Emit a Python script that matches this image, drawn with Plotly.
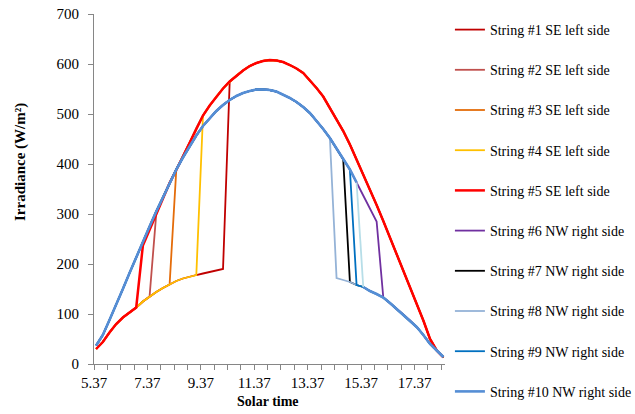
import plotly.graph_objects as go

# ---- data ----
solar_time = [5.45, 5.70, 5.95, 6.20, 6.45, 6.70, 6.95, 7.20, 7.45, 7.70,
              7.95, 8.20, 8.45, 8.70, 8.95, 9.20, 9.45, 9.70, 9.95, 10.20,
              10.45, 10.70, 10.95, 11.20, 11.45, 11.70, 11.95, 12.20, 12.45, 12.70,
              12.95, 13.20, 13.45, 13.70, 13.95, 14.20, 14.45, 14.70, 14.95, 15.20,
              15.45, 15.70, 15.95, 16.20, 16.45, 16.70, 16.95, 17.20, 17.45, 17.70,
              17.95, 18.20, 18.45]

# SE side, shaded part (index 0..19)
se_shaded = [30, 44, 63, 80, 93, 103, 113, 125, 135, 144,
             152, 159, 166, 171, 175, 178, 181, 184, 187, 190]
# SE side, unshaded part (index 7..52)
se_sunny = [237, 268, 300, 333, 362, 388, 415, 443, 472, 497,
            517, 535, 551, 565, 577, 587, 596, 602, 606, 608,
            607, 604, 598, 591, 582, 568, 552, 535, 512, 490,
            466, 439, 409, 380, 350, 318, 286, 253, 220, 187,
            155, 122, 87, 50, 27, 13]
SE_SUNNY_START = 7

# NW side, unshaded part (index 0..42)
nw_sunny = [37, 58, 88, 118, 150, 182, 214, 245, 275, 305,
            334, 362, 389, 413, 436, 457, 476, 492, 506, 518,
            528, 536, 542, 546, 549, 549, 548, 545, 539, 532,
            524, 514, 502, 487, 470, 452, 431, 409, 389, 363,
            337, 311, 285]
# NW side, shaded part (index 36..52)
nw_shaded = [172, 168, 164, 158, 154, 146, 140, 133, 122, 110,
             99, 87, 74, 58, 40, 27, 14]
NW_SHADED_START = 36

string_names = ["String #1 SE left side", "String #2 SE left side", "String #3 SE left side",
                "String #4 SE left side", "String #5 SE left side", "String #6 NW right side",
                "String #7 NW right side", "String #8 NW right side", "String #9 NW right side",
                "String #10 NW right side"]
string_side = ["SE", "SE", "SE", "SE", "SE", "NW", "NW", "NW", "NW", "NW"]
# index of the first point after the shading transition
switch_index = [20, 9, 12, 16, 7, 43, 38, 36, 39, 40]
string_colors = ["#C00000", "#C0504D", "#E46C0A", "#FFC000", "#FF0000",
                 "#7030A0", "#000000", "#95B3D7", "#0070C0", "#558ED5"]
line_widths = [1.8, 1.8, 1.8, 1.8, 2.5, 1.8, 1.8, 1.8, 1.8, 2.6]

x_tick_labels = ["5.37", "7.37", "9.37", "11.37", "13.37", "15.37", "17.37"]


def build(side, j):
    out = []
    for i in range(len(solar_time)):
        if side == "SE":
            out.append(se_shaded[i] if i < j else se_sunny[i - SE_SUNNY_START])
        else:
            out.append(nw_sunny[i] if i < j else nw_shaded[i - NW_SHADED_START])
    return out


FONT = "Liberation Serif, Times New Roman, serif"
fig = go.Figure()

for k, name in enumerate(string_names):
    y = build(string_side[k], switch_index[k])
    x = list(solar_time)
    if k == 9:
        j = switch_index[k]
        x = x[:j] + [None] + x[j:]
        y = y[:j] + [None] + y[j:]
    fig.add_trace(go.Scatter(x=x, y=y, mode="lines", name=name,
                             legendgroup=f"g{k}",
                             line=dict(color=string_colors[k], width=line_widths[k])))

# transition segment of string #10 (drawn light cyan in the reference)
j10 = switch_index[9]
fig.add_trace(go.Scatter(x=[solar_time[j10 - 1], solar_time[j10]],
                         y=[nw_sunny[j10 - 1], nw_shaded[j10 - NW_SHADED_START]],
                         mode="lines", showlegend=False, legendgroup="g9",
                         line=dict(color="#B7DEE8", width=1.8), hoverinfo="skip"))

axis_col = "#868686"
fig.update_layout(
    width=635, height=414,
    margin=dict(l=94, r=190, t=14, b=50, autoexpand=False),
    paper_bgcolor="white", plot_bgcolor="white",
    font=dict(family=FONT, color="black", size=15),
    xaxis=dict(range=[5.37, 18.51], tickvals=[float(v) for v in x_tick_labels],
               ticktext=x_tick_labels, ticks="outside", ticklen=5, tickcolor=axis_col,
               showline=True, linecolor=axis_col, linewidth=1, showgrid=False,
               zeroline=False, tickfont=dict(family=FONT, size=15, color="black"),
               minor=dict(ticks="outside", ticklen=5, tickcolor=axis_col,
                          tick0=5.37, dtick=0.5, showgrid=False)),
    yaxis=dict(range=[0, 700], dtick=100, ticks="outside", ticklen=5, tickcolor=axis_col,
               showline=True, linecolor=axis_col, linewidth=1, showgrid=False,
               zeroline=False, tickfont=dict(family=FONT, size=15, color="black"),
               ticklabelstandoff=6),
    legend=dict(x=1.014, y=1.0, xanchor="left", yanchor="top",
                font=dict(family=FONT, size=14, color="black"),
                tracegroupgap=19, bgcolor="rgba(0,0,0,0)", itemwidth=30,
                maxheight=600),
    annotations=[
        dict(text="<b>Solar time</b>", xref="paper", yref="paper", x=0.497, y=-0.107,
             xanchor="center", yanchor="middle", showarrow=False,
             font=dict(family=FONT, size=14, color="black")),
        dict(text="<b>Irradiance (W/m²)</b>", xref="paper", yref="paper", x=-0.21, y=0.578,
             xanchor="center", yanchor="middle", showarrow=False, textangle=-90,
             font=dict(family=FONT, size=15, color="black")),
    ],
)

fig.write_html("out.html", config={"displayModeBar": False},
               post_script="document.body.style.margin='0';document.body.style.padding='0';")
